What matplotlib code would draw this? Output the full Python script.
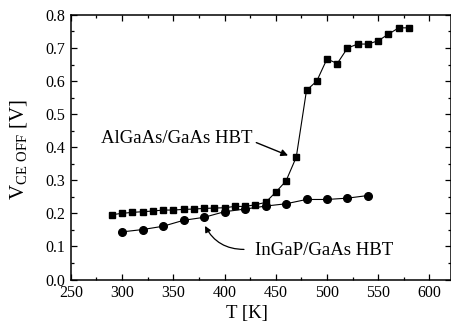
import matplotlib
matplotlib.use("Agg")
import matplotlib.pyplot as plt
from matplotlib.ticker import MultipleLocator

plt.rcParams['font.family'] = ['Liberation Serif', 'DejaVu Serif']
plt.rcParams['mathtext.fontset'] = 'custom'
plt.rcParams['mathtext.rm'] = 'Liberation Serif'

# AlGaAs/GaAs HBT (squares)
t_algaas = [290, 300, 310, 320, 330, 340, 350, 360, 370, 380, 390, 400, 410, 420,
            430, 440, 450, 460, 470, 480, 490, 500, 510, 520, 530, 540, 550, 560,
            570, 580]
v_algaas = [0.196, 0.200, 0.203, 0.205, 0.207, 0.210, 0.210, 0.212, 0.213, 0.215,
            0.216, 0.217, 0.221, 0.221, 0.226, 0.233, 0.264, 0.298, 0.370, 0.572,
            0.600, 0.667, 0.653, 0.700, 0.712, 0.712, 0.722, 0.742, 0.761, 0.761]

# InGaP/GaAs HBT (circles)
t_ingap = [300, 320, 340, 360, 380, 400, 420, 440, 460, 480, 500, 520, 540]
v_ingap = [0.144, 0.151, 0.161, 0.179, 0.188, 0.205, 0.213, 0.222, 0.229, 0.242,
           0.242, 0.246, 0.254]

x_ticks = [250, 300, 350, 400, 450, 500, 550, 600]
y_ticks = [0.0, 0.1, 0.2, 0.3, 0.4, 0.5, 0.6, 0.7, 0.8]

fig = plt.figure(figsize=(4.51, 3.25), dpi=100)
ax = fig.add_axes([0.157, 0.140, 0.843, 0.814])

ax.plot(t_algaas, v_algaas, '-', color='black', lw=0.8, marker='s', ms=5.0,
        markerfacecolor='black', markeredgecolor='black')
ax.plot(t_ingap, v_ingap, '-', color='black', lw=0.8, marker='o', ms=5.5,
        markerfacecolor='black', markeredgecolor='black')

ax.set_xlim(250, 621)
ax.set_ylim(0.0, 0.8)
ax.set_xticks(x_ticks)
ax.set_yticks(y_ticks)
ax.set_yticklabels([f"{v:.1f}" for v in y_ticks])
ax.xaxis.set_minor_locator(MultipleLocator(25))
ax.yaxis.set_minor_locator(MultipleLocator(0.05))
ax.tick_params(which='both', direction='in', top=True, right=True, labelsize=11.5,
               width=0.9, color='black')
ax.tick_params(axis='x', pad=4)
ax.tick_params(axis='y', pad=4)
ax.tick_params(which='major', length=4)
ax.tick_params(which='minor', length=2)
for s in ax.spines.values():
    s.set_linewidth(1.1)

ax.set_xlabel('T [K]', fontsize=13.5)
ax.xaxis.set_label_coords(0.463, -0.128)
ax.xaxis.label.set_va('center')
ax.set_ylabel(r'V$_{\mathrm{CE\ OFF}}$ [V]', fontsize=15)
ax.yaxis.set_label_coords(-0.135, 0.49)
ax.yaxis.label.set_va('center')

ax.text(353, 0.426, 'AlGaAs/GaAs HBT', fontsize=13.5, ha='center', va='center')
ax.annotate('', xy=(462, 0.375), xytext=(431, 0.414),
            arrowprops=dict(arrowstyle='-|>', color='black', lw=1.0,
                            shrinkA=0, shrinkB=0, mutation_scale=10))
ax.text(497, 0.088, 'InGaP/GaAs HBT', fontsize=13.5, ha='center', va='center')
ax.annotate('', xy=(381, 0.162), xytext=(419, 0.091),
            arrowprops=dict(arrowstyle='-|>', color='black', lw=0.9,
                            shrinkA=0, shrinkB=0, mutation_scale=9,
                            connectionstyle='arc3,rad=-0.3'))

fig.savefig('out.png', dpi=100)
